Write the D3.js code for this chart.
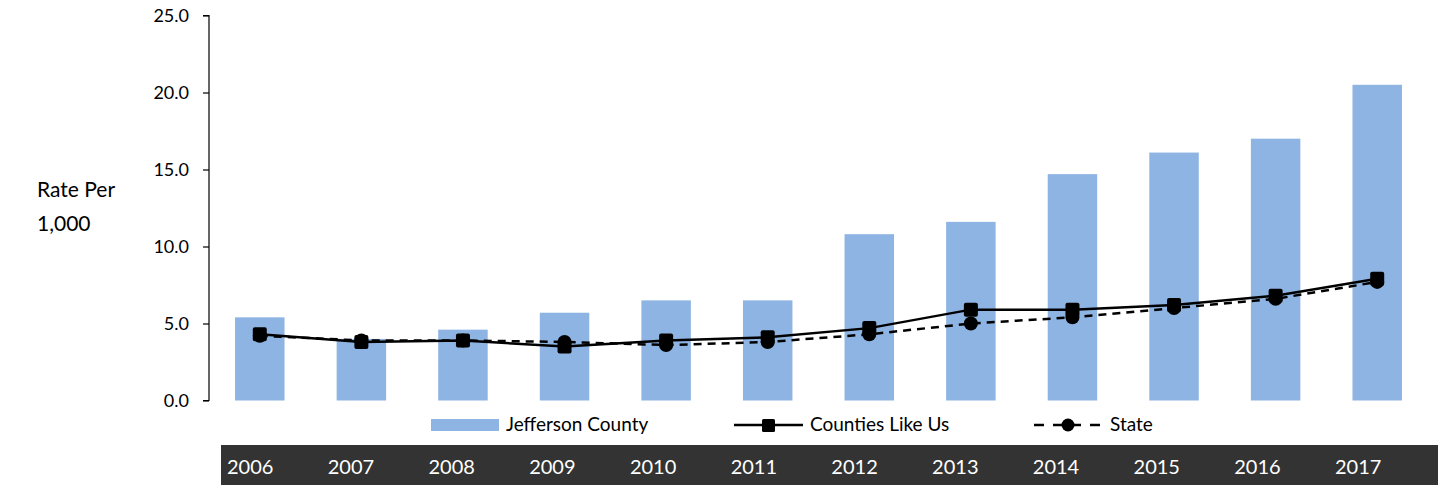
<!DOCTYPE html>
<html>
<head>
<meta charset="utf-8">
<script src="https://cdn.jsdelivr.net/npm/d3@7"></script>
<style>
  html, body { margin: 0; padding: 0; background: #fff; }
  svg { display: block; font-family: Lato, "Open Sans", sans-serif; }
</style>
</head>
<body>
<svg id="chart" width="1438" height="485"></svg>
<script>
// Rate per 1,000 by year
const years = ["2006","2007","2008","2009","2010","2011","2012","2013","2014","2015","2016","2017"];
const jefferson = [5.4, 4.0, 4.6, 5.7, 6.5, 6.5, 10.8, 11.6, 14.7, 16.1, 17.0, 20.5];
const countiesLikeUs = [4.3, 3.8, 3.9, 3.5, 3.9, 4.1, 4.7, 5.9, 5.9, 6.2, 6.8, 7.9];
const state = [4.2, 3.9, 3.9, 3.8, 3.6, 3.8, 4.3, 5.0, 5.4, 6.0, 6.6, 7.7];
const yTicks = [0, 5, 10, 15, 20, 25];
const legendLabels = ["Jefferson County", "Counties Like Us", "State"];

const barColor = "#8EB4E3";
const svg = d3.select("#chart");

const x = d3.scaleBand().domain(years).range([209, 1428]).paddingInner(0.513).paddingOuter(0.2565);
const y = d3.scaleLinear().domain([0, 25]).range([400.5, 15.5]);

// y axis
const yAxis = d3.axisLeft(y).tickValues(yTicks).tickFormat(d3.format(".1f")).tickSize(6).tickPadding(14);
const gy = svg.append("g").attr("transform", "translate(209,0)").call(yAxis);
gy.select(".domain").attr("stroke", "#000").attr("stroke-width", 1.2).attr("d", `M-6,${y(25)}H0V${y(0)}H-6`);
gy.selectAll(".tick line").attr("stroke", "#000").attr("stroke-width", 1.2);
gy.selectAll(".tick text").attr("font-size", 18).attr("fill", "#000").attr("font-family", "Lato, sans-serif");

svg.append("text").attr("x", 37).attr("y", 197).attr("font-size", 21).attr("fill", "#000").text("Rate Per");
svg.append("text").attr("x", 37).attr("y", 231).attr("font-size", 21).attr("fill", "#000").text("1,000");

// Jefferson County bars
svg.append("g").selectAll("rect").data(years).join("rect")
  .attr("x", d => x(d))
  .attr("width", x.bandwidth())
  .attr("y", (d, i) => y(jefferson[i]))
  .attr("height", (d, i) => y(0) - y(jefferson[i]))
  .attr("fill", barColor);

const cx = d => x(d) + x.bandwidth() / 2;

// State line (dashed, circles)
const stateLine = d3.line().x((d, i) => cx(years[i])).y(d => y(d));
svg.append("path").datum(state).attr("d", stateLine)
  .attr("fill", "none").attr("stroke", "#000").attr("stroke-width", 2.5).attr("stroke-dasharray", "8,6");
svg.append("g").selectAll("circle").data(state).join("circle")
  .attr("cx", (d, i) => cx(years[i])).attr("cy", d => y(d)).attr("r", 7).attr("fill", "#000");

// Counties Like Us line (solid, squares)
const clLine = d3.line().x((d, i) => cx(years[i])).y(d => y(d));
svg.append("path").datum(countiesLikeUs).attr("d", clLine)
  .attr("fill", "none").attr("stroke", "#000").attr("stroke-width", 2.5);
svg.append("g").selectAll("rect").data(countiesLikeUs).join("rect")
  .attr("x", (d, i) => cx(years[i]) - 7).attr("y", d => y(d) - 7)
  .attr("width", 14).attr("height", 14).attr("rx", 2).attr("fill", "#000");

// legend
const lg = svg.append("g").attr("font-size", 19).attr("fill", "#000");
lg.append("rect").attr("x", 431).attr("y", 419).attr("width", 68).attr("height", 12).attr("fill", barColor);
lg.append("text").attr("x", 506).attr("y", 431).text(legendLabels[0]);
lg.append("line").attr("x1", 734).attr("x2", 803).attr("y1", 425).attr("y2", 425).attr("stroke", "#000").attr("stroke-width", 2.5);
lg.append("rect").attr("x", 762).attr("y", 419).attr("width", 13).attr("height", 13).attr("rx", 1.5).attr("fill", "#000");
lg.append("text").attr("x", 810).attr("y", 431).text(legendLabels[1]);
lg.append("line").attr("x1", 1034).attr("x2", 1100).attr("y1", 425).attr("y2", 425).attr("stroke", "#000").attr("stroke-width", 2.5).attr("stroke-dasharray", "10,9,28,9,10");
lg.append("circle").attr("cx", 1068).attr("cy", 425).attr("r", 6.5).attr("fill", "#000");
lg.append("text").attr("x", 1110).attr("y", 431).text(legendLabels[2]);

// year band
svg.append("rect").attr("x", 221).attr("y", 445).attr("width", 1438 - 221).attr("height", 40).attr("fill", "#333333");
const xl = d3.scalePoint().domain(years).range([227, 1335]);
svg.append("g").selectAll("text").data(years).join("text")
  .attr("x", d => xl(d)).attr("y", 474).attr("font-size", 20).attr("fill", "#fff").text(d => d);
</script>
</body>
</html>
